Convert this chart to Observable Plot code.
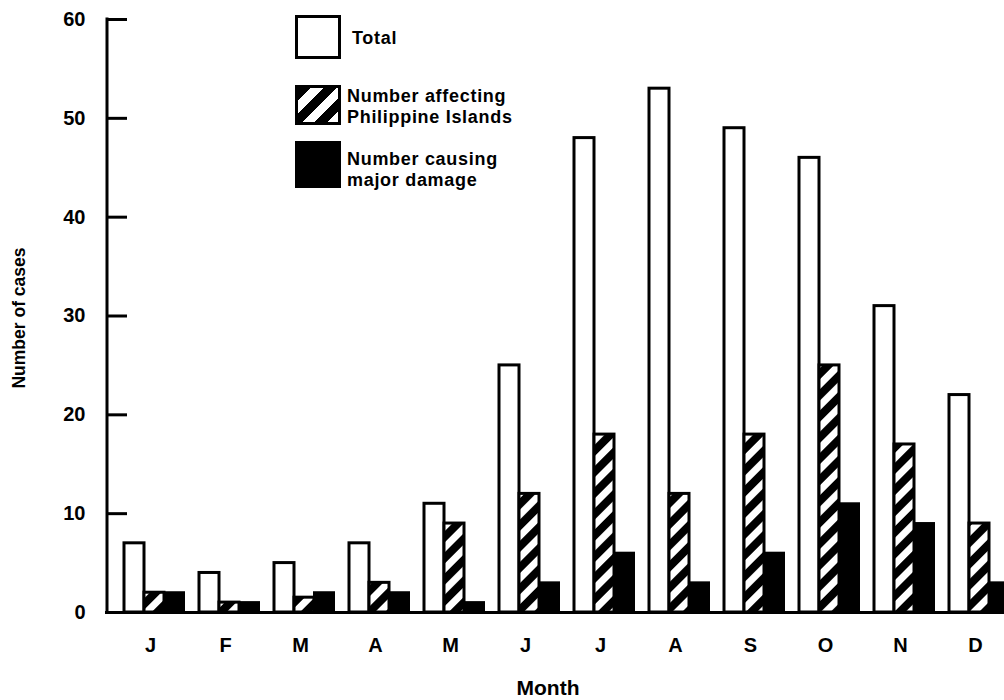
<!DOCTYPE html>
<html>
<head>
<meta charset="utf-8">
<script src="https://cdn.jsdelivr.net/npm/d3@7"></script>
<script src="https://cdn.jsdelivr.net/npm/@observablehq/plot@0.6"></script>
<style>
  body { margin: 0; background: #fff; }
  #wrap { position: relative; width: 1004px; height: 700px; overflow: hidden; font-family: "Liberation Sans", Arial, sans-serif; }
  .sw { position: absolute; box-sizing: border-box; border: 3px solid #000; }
  .lt { position: absolute; font-size: 18px; font-weight: bold; line-height: 21px; letter-spacing: 0.7px; color: #000; white-space: pre; }
</style>
</head>
<body>
<div id="wrap"></div>
<script>
// ---- data ----
const months = ["Jan","Feb","Mar","Apr","May","Jun","Jul","Aug","Sep","Oct","Nov","Dec"];
const monthLetters = ["J","F","M","A","M","J","J","A","S","O","N","D"];
const total      = [7, 4, 5, 7, 11, 25, 48, 53, 49, 46, 31, 22];
const philippine = [2, 1, 1.5, 3, 9, 12, 18, 12, 18, 25, 17, 9];
const damage     = [2, 1, 2, 2, 1, 3, 6, 3, 6, 11, 9, 3];
const yTicks = [0, 10, 20, 30, 40, 50, 60];
const seriesLabels = ["Total", "Number affecting\nPhilippine Islands", "Number causing\nmajor damage"];

const rows = months.map((m, i) => ({month: m, total: total[i], philippine: philippine[i], damage: damage[i]}));
const letterOf = new Map(months.map((m, i) => [m, monthLetters[i]]));

const font = "Liberation Sans, Arial, sans-serif";

const svg = Plot.plot({
  width: 1004,
  height: 700,
  marginTop: 19,
  marginBottom: 88,
  marginLeft: 107,
  marginRight: 0,
  style: {fontFamily: font, background: "white", color: "black", overflow: "hidden"},
  x: {domain: months, range: [107, 1025], paddingInner: 0.205, paddingOuter: 0.185, axis: null},
  y: {domain: [0, 60], axis: null},
  marks: [
    Plot.rectY(rows, {x: "month", y: "total", fill: "white", stroke: "black", strokeWidth: 3, insetRight: 40}),
    Plot.rectY(rows, {x: "month", y: "philippine", fill: "url(#hatch)", stroke: "black", strokeWidth: 3, insetLeft: 20, insetRight: 20}),
    Plot.rectY(rows, {x: "month", y: "damage", fill: "black", stroke: "black", strokeWidth: 2, insetLeft: 40}),
    Plot.ruleY([0], {stroke: "black", strokeWidth: 3, insetLeft: -2}),
    Plot.axisY({ticks: yTicks, tickSize: 0, tickPadding: 22, fontSize: 20, fontWeight: "bold", letterSpacing: 1.5, tickFormat: d => String(d), label: null}),
    Plot.axisY({ticks: yTicks.slice(1), tickSize: -20, strokeWidth: 3, text: null, label: null}),
    Plot.axisX({tickSize: 0, tickPadding: 25, fontSize: 20, fontWeight: "bold", dx: -4, tickFormat: d => letterOf.get(d), label: null}),
    Plot.text(["Month"], {frameAnchor: "bottom", dy: 82, dx: -8, fontSize: 21, fontWeight: "bold", letterSpacing: 1}),
    Plot.text(["Number of cases"], {frameAnchor: "left", textAnchor: "middle", rotate: -90, dx: -88, dy: 2, fontSize: 17.5, fontWeight: "bold", letterSpacing: 0.3})
  ]
});

const sel = d3.select(svg);
const defs = sel.insert("defs", ":first-child");
const pat = defs.append("pattern")
  .attr("id", "hatch")
  .attr("patternUnits", "userSpaceOnUse")
  .attr("width", 15).attr("height", 15)
  .attr("patternTransform", "rotate(45)");
pat.append("rect").attr("width", 15).attr("height", 15).attr("fill", "white");
pat.append("rect").attr("width", 8).attr("height", 15).attr("fill", "black");

// y-axis line drawn from the plot's own scales
const ys = svg.scale("y");
const xs = svg.scale("x");
sel.append("line")
  .attr("x1", xs.range[0]).attr("x2", xs.range[0])
  .attr("y1", ys.apply(yTicks[0]) + 1.5).attr("y2", ys.apply(yTicks[yTicks.length - 1]) - 1.5)
  .attr("stroke", "black").attr("stroke-width", 3);

const wrap = document.getElementById("wrap");
wrap.appendChild(svg);

// ---- legend ----
const swatches = [
  {top: 15, h: 44, bg: "#fff"},
  {top: 85, h: 40, bg: "repeating-linear-gradient(135deg, #000 0 9px, #fff 9px 18px)"},
  {top: 141, h: 47, bg: "#000"}
];
const textTops = [28, 86, 149];
const textLefts = [352, 347, 347];
swatches.forEach((s, i) => {
  const d = document.createElement("div");
  d.className = "sw";
  d.style.left = "295px";
  d.style.top = s.top + "px";
  d.style.width = "46px";
  d.style.height = s.h + "px";
  d.style.background = s.bg;
  wrap.appendChild(d);
  const t = document.createElement("div");
  t.className = "lt";
  t.style.left = textLefts[i] + "px";
  t.style.top = textTops[i] + "px";
  t.textContent = seriesLabels[i];
  wrap.appendChild(t);
});
</script>
</body>
</html>
